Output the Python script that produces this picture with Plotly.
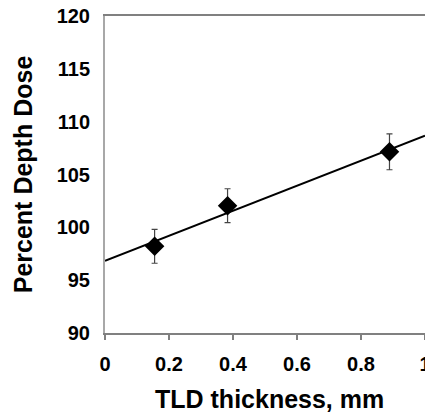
import numpy as np
import plotly.graph_objects as go

thickness = [0.155, 0.383, 0.889]
pdd = [98.2, 102.05, 107.15]
err = [1.6, 1.6, 1.7]
xticks = [0, 0.2, 0.4, 0.6, 0.8, 1]
xticklabels = ["0", "0.2", "0.4", "0.6", "0.8", "1"]
yticks = [90, 95, 100, 105, 110, 115, 120]

slope, intercept = np.polyfit(thickness, pdd, 1)
fit_x = [0, 1]
fit_y = [intercept + slope * v for v in fit_x]

fig = go.Figure()
fig.add_trace(go.Scatter(x=fit_x, y=fit_y, mode="lines",
                         line=dict(color="black", width=2), showlegend=False, cliponaxis=False))
fig.add_trace(go.Scatter(
    x=thickness, y=pdd, mode="markers",
    marker=dict(symbol="diamond", size=15, color="black"),
    error_y=dict(type="data", array=err, color="#444444", thickness=1.2, width=3),
    showlegend=False))

font = "Liberation Sans, Arial, sans-serif"
fig.add_annotation(text="<b>TLD thickness, mm</b>", xref="paper", yref="paper",
                   x=0.5125, y=0, yshift=-66, xanchor="center", yanchor="middle",
                   showarrow=False, font=dict(size=25, family=font, color="black"))
fig.update_layout(
    width=425, height=412,
    margin=dict(l=105, r=0, t=16, b=79),
    paper_bgcolor="white", plot_bgcolor="white",
    font=dict(family=font, color="black"),
    xaxis=dict(range=[0, 1], tickvals=xticks, ticktext=xticklabels, automargin=False,
               showgrid=False, zeroline=False,
               showline=True, linecolor="#808080", linewidth=2, mirror=True,
               ticks="outside", ticklen=5, tickwidth=1.5, tickcolor="#808080",
               tickfont=dict(size=20, family=font, color="black", weight="bold"),
               ticklabelstandoff=7, ticklabeloverflow="allow"),
    yaxis=dict(range=[90, 120], tickvals=yticks, automargin=False,
               showgrid=False, zeroline=False,
               showline=True, linecolor="#a8a8a8", linewidth=2, mirror=True,
               ticks="",
               tickfont=dict(size=20, family=font, color="black", weight="bold"),
               ticklabelstandoff=9,
               title=dict(text="<b>Percent Depth Dose</b>", font=dict(size=25, family=font), standoff=17)),
)
fig.write_html("out.html")
